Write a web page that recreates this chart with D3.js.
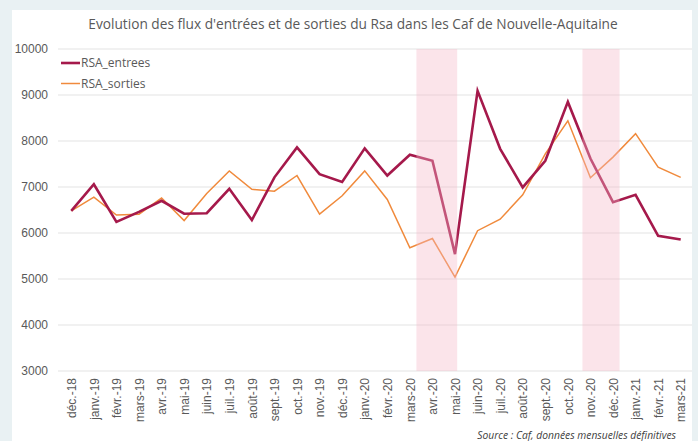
<!DOCTYPE html>
<html>
<head>
<meta charset="utf-8">
<script src="https://cdn.jsdelivr.net/npm/d3@7"></script>
<style>
  body { margin: 0; background: #e9f1f3; }
  svg { display: block; font-family: "Open Sans", sans-serif; }
</style>
</head>
<body>
<svg id="chart" width="698" height="441"></svg>
<script>
var months = ['déc.-18', 'janv.-19', 'févr.-19', 'mars-19', 'avr.-19', 'mai-19', 'juin-19', 'juil.-19',
  'août-19', 'sept.-19', 'oct.-19', 'nov.-19', 'déc.-19', 'janv.-20', 'févr.-20', 'mars-20', 'avr.-20',
  'mai-20', 'juin-20', 'juil.-20', 'août-20', 'sept.-20', 'oct.-20', 'nov.-20', 'déc.-20', 'janv.-21',
  'févr.-21', 'mars-21'];

var entrees = [6480, 7060, 6240, 6460, 6700, 6420, 6430, 6960, 6280, 7210, 7860, 7280, 7110, 7840,
  7250, 7700, 7570, 5540, 9090, 7830, 6990, 7570, 8850, 7620, 6670, 6830, 5940, 5860];

var sorties = [6480, 6780, 6390, 6410, 6760, 6270, 6860, 7350, 6950, 6910, 7250, 6410, 6810, 7350,
  6730, 5680, 5880, 5040, 6050, 6300, 6830, 7720, 8440, 7200, 7650, 8160, 7430, 7210];

var yTicks = [3000, 4000, 5000, 6000, 7000, 8000, 9000, 10000];

// confinements (shaded periods)
var confinements = [['2020-03-17', '2020-05-11'], ['2020-10-28', '2020-12-17']];

var series = [
  { name: 'RSA_entrees', values: entrees, color: '#a5194b', width: 2.6 },
  { name: 'RSA_sorties', values: sorties, color: '#f08a3c', width: 1.5 }
];

var svg = d3.select('#chart');
var margin = { left: 60, right: 6, top: 49, bottom: 70 };
var W = 698, H = 441;

svg.append('rect')
  .attr('x', 12).attr('y', 10)
  .attr('width', 680).attr('height', H)
  .attr('fill', '#ffffff');

var x = d3.scalePoint()
  .domain(months)
  .range([margin.left, W - margin.right])
  .padding(0.5);

var y = d3.scaleLinear()
  .domain([3000, 10000])
  .range([H - margin.bottom, margin.top]);

// gridlines
svg.append('g')
  .selectAll('line')
  .data(yTicks)
  .enter().append('line')
  .attr('x1', margin.left - 2)
  .attr('x2', W - margin.right)
  .attr('y1', function(d) { return y(d); })
  .attr('y2', function(d) { return y(d); })
  .attr('stroke', '#e3e3e3')
  .attr('stroke-width', 1);

// y axis labels
var yAxis = d3.axisLeft(y).tickValues(yTicks).tickSize(0).tickPadding(10).tickFormat(d3.format('d'));
var gy = svg.append('g')
  .attr('transform', 'translate(' + margin.left + ',0)')
  .call(yAxis);
gy.select('.domain').remove();
gy.selectAll('text').attr('fill', '#595959').style('font-size', '12px').attr('dx', -2);

// x axis labels
var xAxis = d3.axisBottom(x).tickSize(0).tickPadding(0);
var gx = svg.append('g')
  .attr('transform', 'translate(0,' + y(3000) + ')')
  .call(xAxis);
gx.select('.domain').remove();
gx.selectAll('text')
  .attr('fill', '#595959')
  .style('font-size', '12px')
  .attr('transform', 'rotate(-90)')
  .attr('text-anchor', 'end')
  .attr('x', -7)
  .attr('y', 0)
  .attr('dy', '0.35em');

// lines
var line = d3.line()
  .x(function(d, i) { return x(months[i]); })
  .y(function(d) { return y(d); });

svg.append('g')
  .selectAll('path')
  .data(series.slice().reverse())
  .enter().append('path')
  .attr('d', function(s) { return line(s.values); })
  .attr('fill', 'none')
  .attr('stroke', function(s) { return s.color; })
  .attr('stroke-width', function(s) { return s.width; })
  .attr('stroke-linejoin', 'miter');

// shaded periods, month points sit around the 8th of each month
var step = x.step();
function dateX(str) {
  var d = new Date(str + 'T00:00:00');
  var idx = (d.getFullYear() - 2018) * 12 + d.getMonth() - 11;
  var days = new Date(d.getFullYear(), d.getMonth() + 1, 0).getDate();
  return x(months[0]) + step * (idx + (d.getDate() - 8) / days);
}

svg.append('g')
  .selectAll('rect')
  .data(confinements)
  .enter().append('rect')
  .attr('x', function(d) { return dateX(d[0]); })
  .attr('width', function(d) { return dateX(d[1]) - dateX(d[0]); })
  .attr('y', y(10000))
  .attr('height', y(3000) - y(10000))
  .attr('fill', '#f5b8c9')
  .attr('opacity', 0.38);

// title
svg.append('text')
  .attr('x', 353)
  .attr('y', 29)
  .attr('text-anchor', 'middle')
  .attr('fill', '#595959')
  .style('font-size', '13.7px')
  .text("Evolution des flux d'entrées et de sorties du Rsa dans les Caf de Nouvelle-Aquitaine");

// legend
var legend = svg.append('g')
  .selectAll('g')
  .data(series)
  .enter().append('g')
  .attr('transform', function(d, i) { return 'translate(61,' + (63 + i * 20.5) + ')'; });

legend.append('line')
  .attr('x1', 0).attr('x2', 19)
  .attr('stroke', function(d) { return d.color; })
  .attr('stroke-width', function(d) { return d.width; });

legend.append('text')
  .attr('x', 20)
  .attr('dy', '0.35em')
  .attr('fill', '#595959')
  .style('font-size', '12px')
  .text(function(d) { return d.name; });

// source
svg.append('text')
  .attr('x', 676)
  .attr('y', 439)
  .attr('text-anchor', 'end')
  .attr('fill', '#404040')
  .style('font-size', '10.3px')
  .style('font-style', 'italic')
  .text('Source : Caf, données mensuelles définitives');
</script>
</body>
</html>
